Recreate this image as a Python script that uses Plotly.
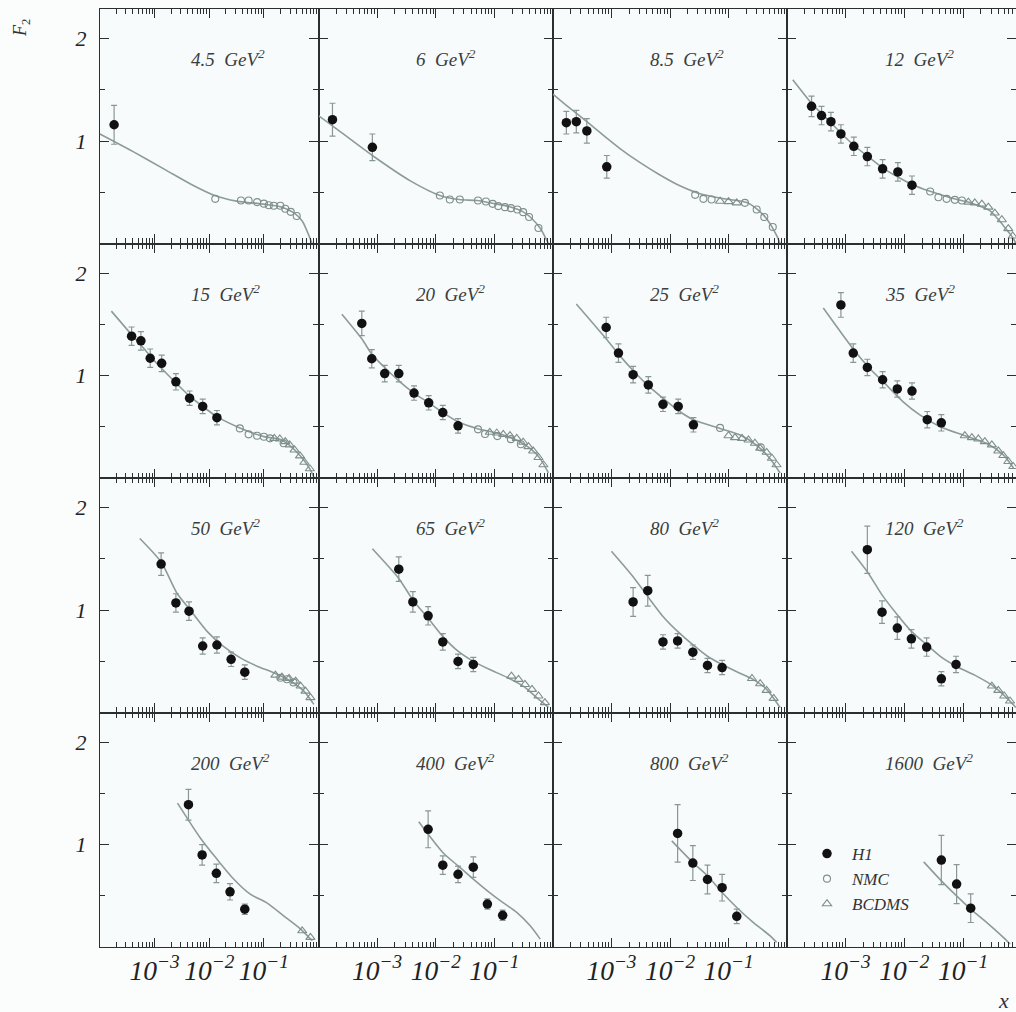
import numpy as np
import plotly.graph_objects as go

# ---------------- data (x stored as log10 x, F2 values) ----------------
Q2_LABELS = ["4.5", "6", "8.5", "12", "15", "20", "25", "35",
             "50", "65", "80", "120", "200", "400", "800", "1600"]

H1_LOG10X = [
    [-3.74],
    [-3.76, -3.08],
    [-3.77, -3.60, -3.42, -3.08],
    [-3.58, -3.41, -3.25, -3.08, -2.86, -2.63, -2.37, -2.11, -1.87],
    [-3.42, -3.25, -3.08, -2.87, -2.61, -2.36, -2.12, -1.86],
    [-3.26, -3.09, -2.87, -2.63, -2.37, -2.12, -1.88, -1.62],
    [-3.09, -2.88, -2.63, -2.37, -2.12, -1.86, -1.60],
    [-3.08, -2.87, -2.63, -2.37, -2.12, -1.87, -1.61, -1.37],
    [-2.88, -2.61, -2.37, -2.12, -1.86, -1.60, -1.35],
    [-2.63, -2.39, -2.13, -1.88, -1.62, -1.36],
    [-2.63, -2.38, -2.12, -1.87, -1.61, -1.36, -1.11],
    [-2.63, -2.38, -2.12, -1.88, -1.62, -1.37, -1.12],
    [-2.38, -2.13, -1.87, -1.62, -1.35],
    [-2.13, -1.88, -1.62, -1.36, -1.12, -0.86],
    [-1.87, -1.61, -1.36, -1.11, -0.86],
    [-1.37, -1.11, -0.87],
]
H1_F2 = [
    [1.16],
    [1.21, 0.94],
    [1.18, 1.19, 1.10, 0.75],
    [1.34, 1.25, 1.19, 1.07, 0.95, 0.85, 0.73, 0.70, 0.57],
    [1.385, 1.34, 1.17, 1.12, 0.94, 0.78, 0.70, 0.59],
    [1.51, 1.165, 1.02, 1.02, 0.83, 0.735, 0.64, 0.51],
    [1.47, 1.22, 1.01, 0.91, 0.72, 0.70, 0.52],
    [1.69, 1.22, 1.08, 0.96, 0.87, 0.85, 0.57, 0.54],
    [1.45, 1.07, 0.99, 0.65, 0.66, 0.52, 0.395],
    [1.40, 1.08, 0.945, 0.69, 0.50, 0.47],
    [1.08, 1.19, 0.69, 0.70, 0.59, 0.46, 0.44],
    [1.59, 0.98, 0.825, 0.72, 0.64, 0.33, 0.47],
    [1.39, 0.90, 0.72, 0.54, 0.37],
    [1.15, 0.80, 0.71, 0.78, 0.42, 0.31],
    [1.11, 0.82, 0.66, 0.58, 0.30],
    [0.85, 0.615, 0.38],
]
H1_ERR = [
    [0.19],
    [0.16, 0.13],
    [0.11, 0.11, 0.12, 0.11],
    [0.10, 0.09, 0.09, 0.09, 0.09, 0.09, 0.09, 0.09, 0.09],
    [0.09, 0.09, 0.09, 0.08, 0.08, 0.07, 0.07, 0.07],
    [0.12, 0.09, 0.08, 0.08, 0.07, 0.07, 0.07, 0.07],
    [0.10, 0.09, 0.08, 0.08, 0.07, 0.07, 0.07],
    [0.12, 0.09, 0.08, 0.08, 0.08, 0.08, 0.08, 0.08],
    [0.11, 0.09, 0.09, 0.08, 0.08, 0.07, 0.07],
    [0.12, 0.10, 0.09, 0.08, 0.07, 0.07],
    [0.14, 0.15, 0.07, 0.07, 0.07, 0.07, 0.07],
    [0.23, 0.11, 0.11, 0.09, 0.09, 0.07, 0.08],
    [0.15, 0.10, 0.09, 0.08, 0.05],
    [0.18, 0.09, 0.08, 0.10, 0.05, 0.05],
    [0.28, 0.17, 0.14, 0.13, 0.07],
    [0.24, 0.19, 0.14],
]

NMC_LOG10X = [
    [-1.89, -1.42, -1.28, -1.125, -1.00, -0.91, -0.82, -0.70, -0.61, -0.51, -0.40],
    [-1.93, -1.76, -1.59, -1.28, -1.145, -1.03, -0.935, -0.82, -0.72, -0.61, -0.51, -0.41, -0.25],
    [-1.57, -1.43, -1.29, -0.72, -0.52, -0.39, -0.245],
    [-1.56, -1.42, -1.28, -1.14, -1.02],
    [-1.44, -1.28, -1.125, -1.00, -0.89, -0.64],
    [-1.28, -1.16, -0.95, -0.72, -0.55],
    [-1.145, -0.45],
    [],
    [-0.70, -0.58, -0.46],
    [], [], [], [], [], [], [],
]
NMC_F2 = [
    [0.437, 0.42, 0.42, 0.405, 0.39, 0.375, 0.37, 0.37, 0.34, 0.31, 0.27],
    [0.469, 0.43, 0.43, 0.421, 0.411, 0.388, 0.366, 0.356, 0.346, 0.333, 0.307, 0.259, 0.152],
    [0.476, 0.437, 0.43, 0.398, 0.333, 0.259, 0.162],
    [0.508, 0.453, 0.437, 0.427, 0.421],
    [0.485, 0.427, 0.414, 0.404, 0.388, 0.34],
    [0.476, 0.43, 0.41, 0.38, 0.33],
    [0.49, 0.30],
    [],
    [0.34, 0.325, 0.295],
    [], [], [], [], [], [], [],
]

BCDMS_LOG10X = [
    [], [],
    [-1.145, -1.00, -0.86],
    [-0.91, -0.80, -0.68, -0.57, -0.46, -0.34, -0.23, -0.155],
    [-0.81, -0.71, -0.61, -0.53, -0.44, -0.34, -0.26, -0.16],
    [-1.08, -0.96, -0.85, -0.735, -0.62, -0.51, -0.42, -0.34, -0.25, -0.165],
    [-1.00, -0.89, -0.77, -0.66, -0.55, -0.46, -0.35, -0.26, -0.18],
    [-0.97, -0.85, -0.74, -0.63, -0.51, -0.40, -0.315, -0.23, -0.145],
    [-0.79, -0.67, -0.54, -0.42, -0.33, -0.24, -0.15],
    [-0.71, -0.59, -0.48, -0.36, -0.25, -0.14],
    [-0.60, -0.46, -0.35, -0.23],
    [-0.51, -0.40, -0.30, -0.20],
    [-0.30, -0.15],
    [], [], [],
]
BCDMS_F2 = [
    [], [],
    [0.414, 0.41, 0.398],
    [0.405, 0.398, 0.385, 0.356, 0.298, 0.233, 0.146, 0.074],
    [0.388, 0.382, 0.356, 0.324, 0.275, 0.217, 0.155, 0.091],
    [0.447, 0.44, 0.427, 0.414, 0.388, 0.35, 0.307, 0.265, 0.201, 0.13],
    [0.414, 0.395, 0.388, 0.372, 0.34, 0.291, 0.252, 0.194, 0.13],
    [0.414, 0.395, 0.382, 0.356, 0.324, 0.265, 0.22, 0.162, 0.113],
    [0.366, 0.346, 0.333, 0.307, 0.259, 0.21, 0.146],
    [0.356, 0.324, 0.275, 0.227, 0.162, 0.097],
    [0.333, 0.282, 0.217, 0.139],
    [0.259, 0.217, 0.162, 0.113],
    [0.159, 0.095],
    [], [], [],
]

FIT_LOG10X = [
    [-4.0, -3.4, -2.8, -2.3, -1.9, -1.5, -1.0, -0.7, -0.45, -0.3, -0.12],
    [-4.0, -3.76, -3.08, -2.44, -1.93, -1.6, -1.3, -1.0, -0.74, -0.51, -0.39, -0.22, -0.08],
    [-4.0, -3.77, -3.42, -3.08, -2.86, -2.51, -2.2, -1.85, -1.5, -1.1, -0.69, -0.52, -0.35, -0.18, -0.12],
    [-3.9, -3.58, -3.41, -3.25, -3.08, -2.86, -2.62, -2.37, -2.11, -1.86, -1.56, -1.17, -0.83, -0.54, -0.32, -0.145, -0.10],
    [-3.79, -3.42, -3.25, -3.08, -2.87, -2.61, -2.36, -2.12, -1.86, -1.44, -1.0, -0.71, -0.53, -0.34, -0.16, -0.08],
    [-3.60, -3.26, -3.09, -2.87, -2.63, -2.37, -2.12, -1.88, -1.62, -1.3, -0.96, -0.62, -0.39, -0.22, -0.08],
    [-3.60, -3.09, -2.88, -2.63, -2.37, -2.12, -1.86, -1.60, -1.145, -0.80, -0.52, -0.29, -0.12],
    [-3.38, -2.87, -2.59, -2.30, -2.02, -1.73, -1.39, -1.00, -0.60, -0.315, -0.14],
    [-3.27, -2.88, -2.59, -2.35, -2.04, -1.74, -1.43, -1.125, -0.82, -0.51, -0.27, -0.086],
    [-3.08, -2.63, -2.39, -2.13, -1.88, -1.62, -1.36, -1.08, -0.79, -0.51, -0.28, -0.08],
    [-3.00, -2.63, -2.38, -2.12, -1.87, -1.61, -1.36, -1.11, -0.86, -0.58, -0.35, -0.12],
    [-2.90, -2.63, -2.38, -2.12, -1.88, -1.62, -1.37, -1.12, -0.77, -0.485, -0.26, -0.10],
    [-2.58, -2.17, -1.86, -1.55, -1.25, -0.94, -0.64, -0.33, -0.116],
    [-2.29, -1.88, -1.62, -1.36, -1.12, -0.86, -0.62, -0.39, -0.22],
    [-1.97, -1.61, -1.36, -1.11, -0.86, -0.58, -0.29, -0.18],
    [-1.67, -1.37, -1.11, -0.87, -0.60, -0.315, -0.2],
]
FIT_F2 = [
    [1.07, 0.90, 0.72, 0.57, 0.47, 0.415, 0.385, 0.36, 0.30, 0.22, 0.0],
    [1.25, 1.15, 0.86, 0.615, 0.47, 0.43, 0.42, 0.39, 0.36, 0.31, 0.26, 0.15, 0.0],
    [1.46, 1.35, 1.19, 1.03, 0.93, 0.79, 0.68, 0.57, 0.49, 0.44, 0.40, 0.34, 0.243, 0.08, 0.0],
    [1.60, 1.37, 1.27, 1.18, 1.08, 0.96, 0.85, 0.74, 0.65, 0.575, 0.51, 0.44, 0.39, 0.32, 0.18, 0.05, 0.0],
    [1.63, 1.40, 1.30, 1.19, 1.07, 0.93, 0.80, 0.70, 0.60, 0.49, 0.405, 0.38, 0.32, 0.22, 0.09, 0.0],
    [1.60, 1.36, 1.21, 1.08, 0.95, 0.83, 0.735, 0.64, 0.55, 0.485, 0.44, 0.37, 0.29, 0.19, 0.05],
    [1.70, 1.36, 1.21, 1.05, 0.90, 0.78, 0.66, 0.57, 0.485, 0.42, 0.32, 0.19, 0.05],
    [1.66, 1.26, 1.07, 0.906, 0.745, 0.615, 0.502, 0.42, 0.34, 0.227, 0.097],
    [1.70, 1.47, 1.165, 1.003, 0.793, 0.647, 0.534, 0.453, 0.388, 0.307, 0.21, 0.08],
    [1.60, 1.31, 1.10, 0.922, 0.744, 0.599, 0.50, 0.42, 0.346, 0.259, 0.146, 0.05],
    [1.576, 1.327, 1.133, 0.939, 0.793, 0.663, 0.55, 0.469, 0.398, 0.324, 0.227, 0.05],
    [1.576, 1.375, 1.149, 0.955, 0.793, 0.663, 0.541, 0.453, 0.356, 0.259, 0.146, 0.05],
    [1.405, 1.07, 0.859, 0.663, 0.517, 0.429, 0.305, 0.176, 0.062],
    [1.223, 0.924, 0.793, 0.663, 0.549, 0.436, 0.339, 0.208, 0.078],
    [1.037, 0.826, 0.696, 0.533, 0.387, 0.241, 0.11, 0.046],
    [0.832, 0.647, 0.50, 0.371, 0.241, 0.095, 0.03],
]

# ---------------- layout geometry ----------------
W, H = 1016, 1012
COL_PX = [(100, 318.5), (318.5, 553), (553, 787), (787, 1016)]
COL_XMAX = [-0.002, -0.002, -0.002, -4 + (1016 - 787) / 58.7]
ROW_PX = [(9, 243.5), (243.5, 478), (478, 712.5), (712.5, 947)]
YRANGE = [0.001, 2.29]

AX = "#2b2f2f"
GREY = "#8d9b9b"
SERIF = "Liberation Serif"

fig = go.Figure()
layout = {}
annotations = []

for i in range(16):
    r, c = divmod(i, 4)
    n = i + 1
    xa = "x" if n == 1 else f"x{n}"
    ya = "y" if n == 1 else f"y{n}"
    xkey = "xaxis" if n == 1 else f"xaxis{n}"
    ykey = "yaxis" if n == 1 else f"yaxis{n}"

    x0, x1 = COL_PX[c]
    y0, y1 = ROW_PX[r]
    layout[xkey] = dict(
        domain=[x0 / W, x1 / W], anchor=ya, type="log",
        range=[-3.998, COL_XMAX[c]],
        showline=True, linecolor=AX, linewidth=1.2, mirror="ticks",
        ticks="inside", ticklen=9, tickwidth=1.2, tickcolor=AX,
        tickmode="linear", tick0=0, dtick=1,
        exponentformat="power", showexponent="all",
        showticklabels=(r == 3),
        tickfont=dict(family=SERIF, size=22, color="#222", style="italic"),
        minor=dict(dtick="D1", ticks="inside", ticklen=5, tickwidth=1,
                   tickcolor=AX, showgrid=False),
        showgrid=False, zeroline=False, fixedrange=True,
    )
    layout[ykey] = dict(
        domain=[1 - y1 / H, 1 - y0 / H], anchor=xa,
        range=YRANGE,
        showline=True, linecolor=AX, linewidth=1.2, mirror="ticks",
        ticks="inside", ticklen=9, tickwidth=1.2, tickcolor=AX,
        tickmode="linear", tick0=0, dtick=1,
        showticklabels=(c == 0), ticklabelstandoff=8,
        tickfont=dict(family=SERIF, size=22, color="#222", style="italic"),
        minor=dict(tick0=0, dtick=0.5, ticks="inside", ticklen=5, tickwidth=1,
                   tickcolor=AX, showgrid=False),
        showgrid=False, zeroline=False, fixedrange=True,
    )

    # fit curve
    fig.add_trace(go.Scatter(
        x=10 ** np.array(FIT_LOG10X[i]), y=FIT_F2[i], xaxis=xa, yaxis=ya,
        mode="lines", line=dict(color=GREY, width=1.6, shape="spline", smoothing=0.7),
        showlegend=False, hoverinfo="skip"))
    # NMC
    if NMC_LOG10X[i]:
        fig.add_trace(go.Scatter(
            x=10 ** np.array(NMC_LOG10X[i]), y=NMC_F2[i], xaxis=xa, yaxis=ya,
            mode="markers", name="NMC", legendgroup="NMC", legendrank=2,
            showlegend=(i == 0),
            marker=dict(symbol="circle-open", size=7, color="#7f8d8d", line=dict(width=1.1))))
    # BCDMS
    if BCDMS_LOG10X[i]:
        fig.add_trace(go.Scatter(
            x=10 ** np.array(BCDMS_LOG10X[i]), y=BCDMS_F2[i], xaxis=xa, yaxis=ya,
            mode="markers", name="BCDMS", legendgroup="BCDMS", legendrank=3,
            showlegend=(i == 2),
            marker=dict(symbol="triangle-up-open", size=8, color="#7f8d8d", line=dict(width=1.1))))
    # H1
    fig.add_trace(go.Scatter(
        x=10 ** np.array(H1_LOG10X[i]), y=H1_F2[i], xaxis=xa, yaxis=ya,
        mode="markers", name="H1", legendgroup="H1", legendrank=1,
        showlegend=(i == 0),
        error_y=dict(type="data", array=H1_ERR[i], color="#8a9696", thickness=1.2, width=3),
        marker=dict(symbol="circle", size=9.5, color="#111111")))

    annotations.append(dict(
        xref=xa, yref=ya, x=-2.37, y=1.81, xanchor="left", yanchor="middle",
        text=f"<i>{Q2_LABELS[i]}  GeV<sup>2</sup></i>", showarrow=False,
        font=dict(family=SERIF, size=19, color="#3a3e3e")))

annotations.append(dict(
    xref="paper", yref="paper", x=22 / W, y=1 - 28 / H, xanchor="center", yanchor="middle",
    text="<i>F</i><sub>2</sub>", textangle=-90, showarrow=False,
    font=dict(family=SERIF, size=18, color="#333")))
annotations.append(dict(
    xref="paper", yref="paper", x=1003 / W, y=1 - 1000 / H, xanchor="center", yanchor="middle",
    text="<i>x</i>", showarrow=False,
    font=dict(family=SERIF, size=22, color="#333")))

fig.update_layout(
    width=W, height=H, margin=dict(l=0, r=0, t=0, b=0),
    paper_bgcolor="#fbfdfd", plot_bgcolor="#f8fbfb",
    annotations=annotations,
    legend=dict(x=802 / W, y=1 - 836 / H, xanchor="left", yanchor="top",
                bgcolor="rgba(0,0,0,0)", tracegroupgap=0, itemwidth=40,
                font=dict(family=SERIF, size=17, color="#333", style="italic")),
    **layout,
)

fig.write_html("out.html")
